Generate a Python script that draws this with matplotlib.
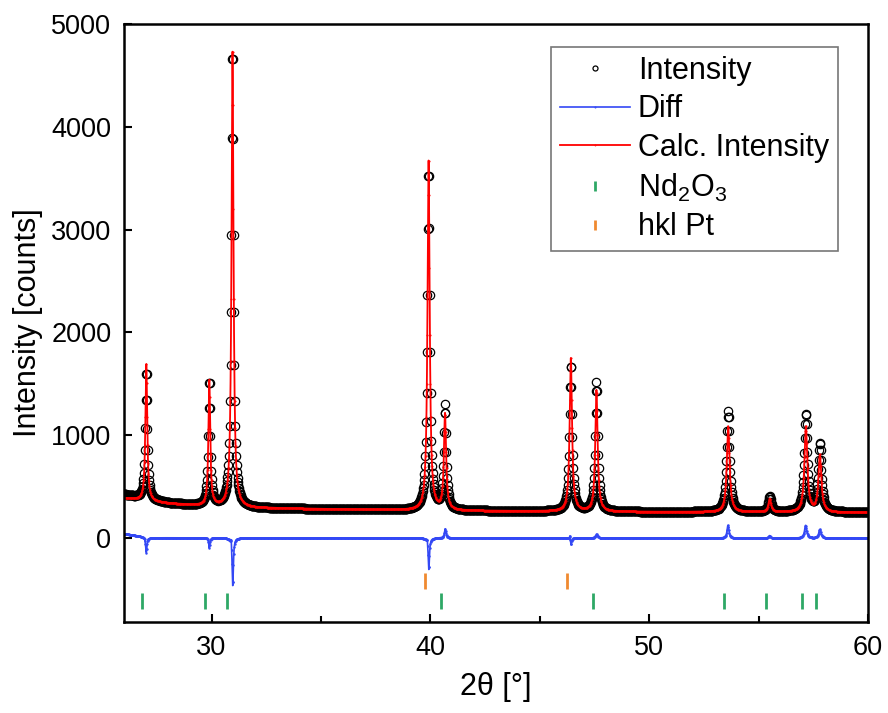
import numpy as np
import matplotlib
matplotlib.use("Agg")
import matplotlib.pyplot as plt
from matplotlib.ticker import MultipleLocator

plt.rcParams['font.family'] = ['Liberation Sans', 'DejaVu Sans']
plt.rcParams['mathtext.fontset'] = 'custom'
plt.rcParams['mathtext.rm'] = 'Liberation Sans'

# reflections: position [deg 2theta], height above background [counts], HWHM [deg]
peak_pos = [27.02, 29.90, 30.96, 39.92, 40.67, 46.42, 47.59, 53.61, 55.51, 57.16, 57.80]
calc_height = [1330, 1220, 4430, 3400, 930, 1490, 1180, 835, 130, 830, 550]
obs_height = [1260, 1220, 4480, 3320, 1010, 1430, 1260, 980, 150, 950, 660]
calc_hwhm = [0.050, 0.050, 0.055, 0.060, 0.060, 0.065, 0.065, 0.075, 0.070, 0.080, 0.080]
obs_hwhm = [0.055, 0.055, 0.060, 0.065, 0.065, 0.070, 0.070, 0.080, 0.075, 0.085, 0.085]

# background knots
bg_x = [26.0, 27.0, 28.0, 29.0, 30.0, 32.0, 35.0, 40.0, 45.0, 50.0, 55.0, 60.0]
calc_bg = [385, 360, 335, 318, 305, 290, 280, 265, 258, 252, 250, 245]
obs_bg = [420, 372, 338, 320, 305, 290, 280, 265, 258, 252, 252, 248]

# difference curve: features and baseline
diff_pos = [27.02, 29.90, 30.90, 30.97, 39.86, 39.93, 40.68, 46.38, 46.43, 47.60, 53.60, 55.50, 57.15, 57.80]
diff_amp = [-150, -100, 70, -470, 40, -310, 90, 40, -70, 40, 125, 25, 125, 85]
diff_hwhm = [0.035, 0.030, 0.020, 0.035, 0.020, 0.035, 0.040, 0.020, 0.030, 0.050, 0.050, 0.050, 0.060, 0.060]
diff_bg_x = [26.0, 26.6, 27.2, 60.0]
diff_bg = [40, 20, 0, -5]

# reflection markers
nd2o3_pos = [26.82, 29.71, 30.73, 40.49, 47.42, 53.43, 55.33, 56.98, 57.62]
pt_pos = [39.74, 46.23]
nd2o3_level = -615
pt_level = -420


def pattern(x, bgx, bg, pos, height, hwhm):
    y = np.interp(x, bgx, bg).astype(float)
    for p, h, w in zip(pos, height, hwhm):
        y += h / (1 + ((x - p) / w) ** 2)
    return y


x_obs = np.arange(26.01, 60.0, 0.02)
x_calc = np.arange(26.0, 60.0001, 0.005)
y_obs = pattern(x_obs, bg_x, obs_bg, peak_pos, obs_height, obs_hwhm)
y_calc = pattern(x_calc, bg_x, calc_bg, peak_pos, calc_height, calc_hwhm)
y_diff = pattern(x_calc, diff_bg_x, diff_bg, diff_pos, diff_amp, diff_hwhm)

fig = plt.figure(figsize=(8.88, 7.13), dpi=100)
ax = fig.add_axes([0.1396, 0.1276, 0.8379, 0.8387])

ax.plot(x_obs, y_obs, linestyle='none', marker='o', markersize=6, markerfacecolor='none',
        markeredgecolor='black', markeredgewidth=0.9, label='Intensity')
ax.plot(x_calc, y_diff, color='#3348f5', linewidth=1.2, marker='.', markersize=1.5, markevery=4,
        label='Diff')
ax.plot(x_calc, y_calc, color='red', linewidth=1.3, marker='.', markersize=1.0, markevery=4,
        label='Calc. Intensity')
ax.plot(nd2o3_pos, [nd2o3_level] * len(nd2o3_pos), linestyle='none', marker='|', markersize=12,
        markeredgewidth=2, color='#2ea866', label='Nd$_2$O$_3$')
ax.plot(pt_pos, [pt_level] * len(pt_pos), linestyle='none', marker='|', markersize=12,
        markeredgewidth=2, color='#f08a30', label='hkl Pt')

ax.set_xlim(26, 60)
ax.set_ylim(-820, 5000)
ax.xaxis.set_major_locator(MultipleLocator(10))
ax.xaxis.set_minor_locator(MultipleLocator(5))
ax.yaxis.set_major_locator(MultipleLocator(1000))
ax.tick_params(which='both', direction='in', labelsize=19.5, width=1.5, top=False, right=False)
ax.tick_params(which='major', length=6, pad=9)
ax.tick_params(which='minor', length=4)
for s in ax.spines.values():
    s.set_linewidth(1.8)

ax.set_xlabel('2θ [°]', fontsize=22, labelpad=8)
ax.set_ylabel('Intensity [counts]', fontsize=22, labelpad=6)

leg = ax.legend(loc='upper right', bbox_to_anchor=(0.96, 0.962), fontsize=22, frameon=True,
                fancybox=False, edgecolor='#555555', markerscale=0.6, handlelength=2.3,
                borderaxespad=0, labelspacing=0.28, borderpad=0.3, handletextpad=0.25)
leg.get_frame().set_linewidth(1.2)

fig.savefig('out.png', dpi=100)
